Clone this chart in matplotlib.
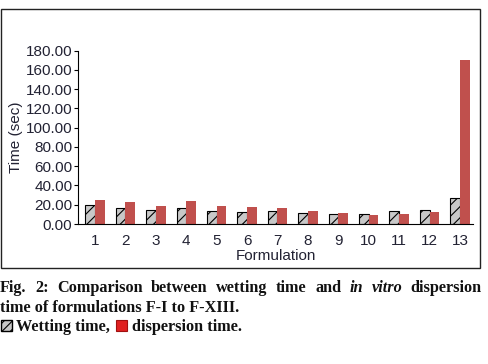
import matplotlib.pyplot as plt
import numpy as np
from matplotlib.patches import Rectangle

formulations = [str(i) for i in range(1, 14)]
wetting_time = [19.4, 16.3, 14.2, 16.3, 13.2, 12.1, 13.2, 11.1, 10.0, 10.0, 13.2, 14.2, 26.7]
dispersion_time = [24.9, 22.8, 18.7, 23.9, 18.7, 17.7, 16.6, 13.5, 11.4, 9.3, 10.4, 12.5, 170.3]
yticks = [0, 20, 40, 60, 80, 100, 120, 140, 160, 180]

RED = "#c0504d"
W, H = 488, 364

plt.rcParams["hatch.color"] = "#333333"
plt.rcParams["hatch.linewidth"] = 0.8

fig = plt.figure(figsize=(W / 100, H / 100), dpi=100)
ax = fig.add_axes([78 / W, 1 - 224 / H, (473 - 78) / W, (224 - 50.7) / H])

x = np.arange(1, len(formulations) + 1)
bw = 0.32
ax.bar(x - bw / 2, wetting_time, bw, color="#c8c8c8", edgecolor="black",
       hatch="///", linewidth=0.8)
ax.bar(x + bw / 2, dispersion_time, bw, color=RED, linewidth=0)

ax.set_xlim(0.44, 13.43)
ax.set_ylim(0, 180)
ax.set_yticks(yticks)
ax.set_yticklabels([f"{v:.2f}" for v in yticks])
ax.set_xticks(x)
ax.set_xticklabels(formulations)
for s in ["top", "right"]:
    ax.spines[s].set_visible(False)
ax.spines["left"].set_linewidth(0.8)
ax.spines["bottom"].set_linewidth(0.8)
ax.tick_params(axis="y", length=3, width=0.8, pad=1, labelsize=11,
               labelcolor="#222233", labelfontfamily="Liberation Sans")
ax.tick_params(axis="x", length=0, pad=7, labelsize=11,
               labelcolor="#222233", labelfontfamily="Liberation Sans")
ax.set_xlabel("Formulation", fontsize=11, family="Liberation Sans",
              color="#222233", labelpad=1)
ax.set_ylabel("Time (sec)", fontsize=11, family="Liberation Sans",
              color="#222233", labelpad=2)

# outer frame around the chart
fig.add_artist(Rectangle((1 / W, 1 - 268 / H), 479 / W, 259 / H,
                         transform=fig.transFigure, fill=False,
                         edgecolor="#222222", linewidth=1.0))

# caption
cap = dict(family="Liberation Serif", weight="bold", fontsize=11.7,
           color="#111111", va="baseline")
renderer = fig.canvas.get_renderer()

# first line is justified to the full width
words = [("Fig.", "normal"), ("2:", "normal"), ("Comparison", "normal"),
         ("between", "normal"), ("wetting", "normal"), ("time", "normal"),
         ("and", "normal"), ("in", "italic"), ("vitro", "italic"),
         ("dispersion", "normal")]
texts = [fig.text(0, 1 - 292.5 / H, w, style=st, **cap) for w, st in words]
widths = [t.get_window_extent(renderer).width for t in texts]
gap = (482 - sum(widths)) / (len(words) - 1)
xpos = 0.0
for t, wd in zip(texts, widths):
    t.set_x(xpos / W)
    xpos += wd + gap

fig.text(0 / W, 1 - 311.7 / H, "time of formulations F-I to F-XIII.", **cap)

fig.add_artist(Rectangle((1 / W, 1 - 331 / H), 11 / W, 11 / H,
                         transform=fig.transFigure, facecolor="#c8c8c8",
                         edgecolor="black", hatch="////", linewidth=1.0))
t3 = fig.text(16 / W, 1 - 331 / H, "Wetting time,", **cap)
bb = t3.get_window_extent(renderer)
fig.add_artist(Rectangle(((bb.x1 + 6) / W, 1 - 331 / H), 11 / W, 11 / H,
                         transform=fig.transFigure, facecolor="#e02020",
                         edgecolor="#a01010", linewidth=0.8))
fig.text((bb.x1 + 22) / W, 1 - 331 / H, "dispersion time.", **cap)

fig.savefig("out.png", dpi=100)
